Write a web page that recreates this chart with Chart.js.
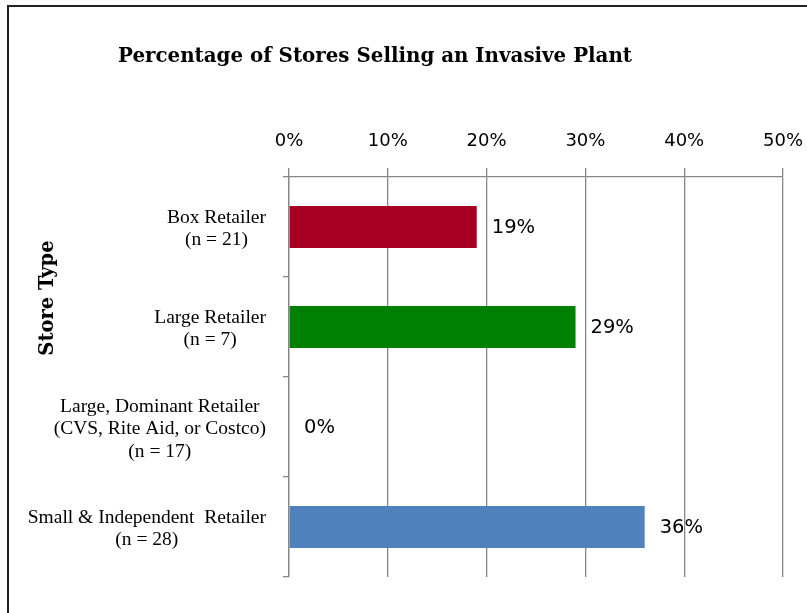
<!DOCTYPE html>
<html>
<head>
<meta charset="utf-8">
<script src="https://cdn.jsdelivr.net/npm/chart.js@4.4.1/dist/chart.umd.min.js"></script>
<style>
  html, body { margin: 0; padding: 0; background: #fff; }
  canvas { display: block; }
</style>
</head>
<body>
<canvas id="chart" width="807" height="613"></canvas>
<script>
// Chart content
const chartTitle = 'Percentage of Stores Selling an Invasive Plant';
const axisTitle = 'Store Type';
const storeTypes = [
  ['Box Retailer', '(n = 21)'],
  ['Large Retailer', '(n = 7)'],
  ['Large, Dominant Retailer', '(CVS, Rite Aid, or Costco)', '(n = 17)'],
  ['Small & Independent  Retailer', '(n = 28)']
];
const percentSelling = [19, 29, 0, 36];
const barColors = ['#A50021', '#008000', '#4F81BD', '#4F81BD'];
const percentTicks = [0, 10, 20, 30, 40, 50];

const GRID = '#878787';
const SERIF = '"Liberation Serif", "DejaVu Serif", serif';
const SANS = '"DejaVu Sans", "Open Sans", sans-serif';

// White background and the outer frame
const framePlugin = {
  id: 'frame',
  beforeDraw(chart) {
    const ctx = chart.ctx;
    ctx.save();
    ctx.fillStyle = '#fff';
    ctx.fillRect(0, 0, chart.width, chart.height);
    ctx.strokeStyle = '#222';
    ctx.lineWidth = 2;
    ctx.strokeRect(8, 6, 820, 700);
    ctx.restore();
  }
};

// Percentage value printed to the right of each bar
const valueLabels = {
  id: 'valueLabels',
  afterDatasetsDraw(chart) {
    const ctx = chart.ctx;
    const meta = chart.getDatasetMeta(0);
    ctx.save();
    ctx.font = '19.5px ' + SANS;
    ctx.fillStyle = '#000';
    ctx.textAlign = 'left';
    ctx.textBaseline = 'middle';
    meta.data.forEach((bar, i) => {
      ctx.fillText(Math.round(percentSelling[i]) + '%', bar.x + 15, bar.y + 1);
    });
    ctx.restore();
  }
};

// Title, rotated axis title and the multi-line store type labels
const textPlugin = {
  id: 'texts',
  afterDraw(chart) {
    const ctx = chart.ctx;
    const yScale = chart.scales.y;
    ctx.save();
    ctx.fillStyle = '#000';

    ctx.font = 'bold 20px "DejaVu Serif", serif';
    ctx.textAlign = 'left';
    ctx.textBaseline = 'alphabetic';
    ctx.fillText(chartTitle, 118, 62, 514);

    ctx.save();
    ctx.translate(53, 298);
    ctx.rotate(-Math.PI / 2);
    ctx.font = 'bold 19.5px "DejaVu Serif", serif';
    ctx.textAlign = 'center';
    ctx.fillText(axisTitle, 0, 0);
    ctx.restore();

    ctx.font = '19.5px ' + SERIF;
    ctx.textAlign = 'center';
    ctx.textBaseline = 'middle';
    const lineH = 22.5;
    const rightEdge = yScale.right - 23;
    storeTypes.forEach((lines, i) => {
      const cy = yScale.getPixelForTick(i) + 2;
      const w = Math.max(...lines.map(l => ctx.measureText(l).width));
      const cx = rightEdge - w / 2;
      const y0 = cy - (lines.length - 1) * lineH / 2;
      lines.forEach((l, j) => ctx.fillText(l, cx, y0 + j * lineH));
    });
    ctx.restore();
  }
};

new Chart(document.getElementById('chart'), {
  type: 'bar',
  data: {
    labels: storeTypes,
    datasets: [{
      data: percentSelling,
      backgroundColor: barColors,
      borderWidth: 0,
      barPercentage: 0.42,
      categoryPercentage: 1.0
    }]
  },
  options: {
    indexAxis: 'y',
    responsive: false,
    animation: false,
    events: [],
    layout: { padding: { top: 0, left: 0, right: 24, bottom: 36 } },
    plugins: {
      legend: { display: false },
      title: { display: false },
      tooltip: { enabled: false }
    },
    scales: {
      x: {
        position: 'top',
        min: percentTicks[0],
        max: percentTicks[percentTicks.length - 1],
        ticks: {
          stepSize: percentTicks[1] - percentTicks[0],
          callback: v => v + '%',
          font: { family: SANS, size: 18 },
          color: '#000',
          padding: 16
        },
        grid: { color: GRID, lineWidth: 1.3, tickLength: 9, drawTicks: true },
        border: { color: GRID, width: 1.3 },
        afterFit(scale) {
          scale.height = 177;
          scale.paddingLeft = 0;
          scale.paddingRight = 0;
        }
      },
      y: {
        ticks: { display: false },
        grid: { drawOnChartArea: false, drawTicks: true, tickLength: 6, color: GRID, offset: true, lineWidth: 1.3 },
        border: { color: GRID, width: 1.3 },
        afterFit(scale) { scale.width = 289; }
      }
    }
  },
  plugins: [framePlugin, valueLabels, textPlugin]
});
</script>
</body>
</html>
